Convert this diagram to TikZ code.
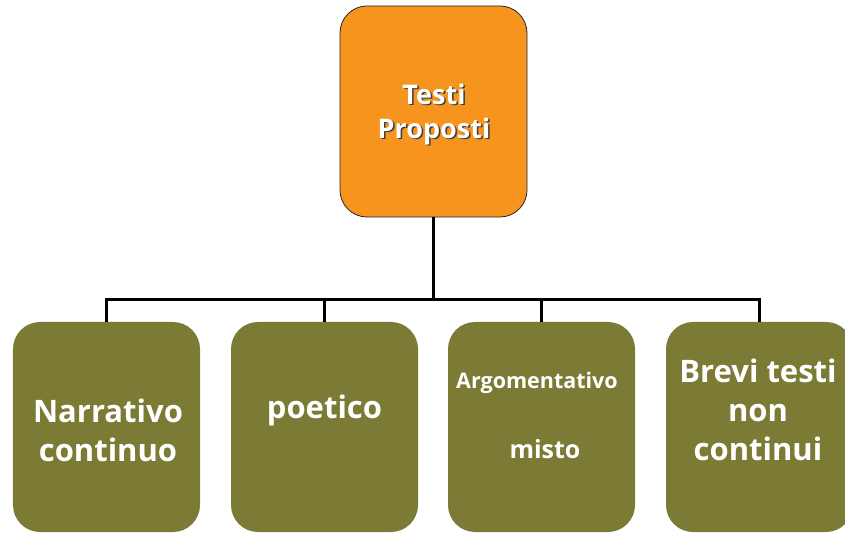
\documentclass[tikz,border=0pt]{standalone}
\usepackage{fontspec}
\setmainfont{Open Sans}
\definecolor{orng}{RGB}{247,148,30}
\definecolor{olive}{RGB}{123,123,53}
\definecolor{shadowgray}{RGB}{60,60,60}
\begin{document}
\begin{tikzpicture}[x=1bp,y=-1bp,
  topbox/.style={draw=black!85, line width=0.8bp, fill=orng, rounded corners=27bp,
    minimum width=187bp, minimum height=211bp, inner sep=0pt},
  subbox/.style={fill=olive, rounded corners=27bp,
    minimum width=187bp, minimum height=210bp, inner sep=0pt},
  conn/.style={line width=3bp, black},
  bigtxt/.style={text=white, align=center, inner sep=0pt,
    font=\bfseries\fontsize{31bp}{39bp}\selectfont},
  midtxt/.style={text=white, align=center, inner sep=0pt,
    font=\bfseries\fontsize{27bp}{34bp}\selectfont},
  smalltxt/.style={text=white, align=center, inner sep=0pt,
    font=\bfseries\fontsize{21.5bp}{26bp}\selectfont}
]
\useasboundingbox (0,0) rectangle (845,533);
\fill[white] (0,0) rectangle (845,533);

\node[topbox] (top) at (433.5,111.5) {};
\node[subbox] (b1) at (106.5,427) {};
\node[subbox] (b2) at (324.5,427) {};
\node[subbox] (b3) at (541.5,427) {};
\node[subbox] (b4) at (759.5,427) {};

\coordinate (j) at (433.5,300);
\draw[conn] (top.south) -- (top.south |- j);
\draw[conn, line cap=rect] (b1.north |- j) -- (b4.north |- j);
\foreach \b in {b1,b2,b3,b4} {
  \draw[conn] (\b.north |- j) -- (\b.north);
}

% top text with shadow
\node[midtxt, text=shadowgray] (tshadow) at (435.5,115.5) {Testi\\Proposti};
\node[midtxt] (ttext) at (434,114) {Testi\\Proposti};

\node[bigtxt] (t1) at (108,430) {Narrativo\\continuo};
\node[bigtxt] (t2) at (324.5,410) {poetico};
\node[smalltxt] (t3a) at (537,383) {Argomentativo};
\node[smalltxt, font=\bfseries\fontsize{25bp}{28bp}\selectfont] (t3b) at (545,449) {misto};
\node[bigtxt] (t4) at (758,410) {Brevi testi\\non\\continui};
\end{tikzpicture}
\end{document}
